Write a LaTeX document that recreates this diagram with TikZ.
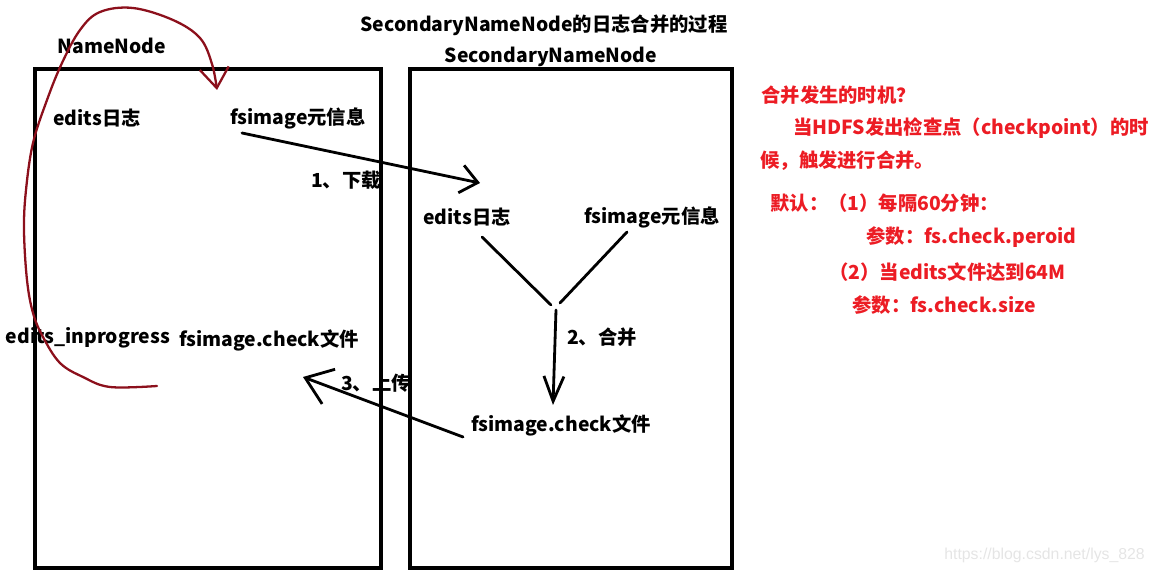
\documentclass[tikz,border=0pt]{standalone}
\usepackage{fontspec}
\setmainfont{Noto Sans CJK SC}
\newfontfamily\wmfont{Liberation Sans}
\usetikzlibrary{arrows.meta}
\definecolor{noteRed}{RGB}{236,28,36}
\definecolor{penRed}{RGB}{140,16,28}

\begin{document}
\begin{tikzpicture}[x=0.02cm,y=-0.02cm,line cap=round,line join=round,
    font=\fontsize{11}{13}\selectfont\bfseries]
  \tikzstyle{box}=[draw,line width=1.8pt,line cap=butt,line join=miter]
  \tikzstyle{txt}=[inner sep=0pt]
  \tikzstyle{note}=[txt,anchor=west,text=noteRed]
  \tikzstyle{flow}=[line width=1.6pt]
  \useasboundingbox (0,0) rectangle (1154,574);

  % titles
  \node [txt] (title) at (544,25) {SecondaryNameNode的日志合并的过程};
  \node [txt] (nnLabel) at (112,46) {NameNode};
  \node [txt] (snnLabel) at (551,57) {SecondaryNameNode};

  % NameNode side
  \node [txt] (editsL) at (97,118) {edits日志};
  \node [txt] (fsimgL) at (298,118) {fsimage元信息};
  \node [txt] (inprog) at (88,338) {edits\_inprogress};
  \node [txt] (chkL) at (269,340) {fsimage.check文件};

  % SecondaryNameNode side
  \node [txt] (editsR) at (467,217) {edits日志};
  \node [txt] (fsimgR) at (652,217) {fsimage元信息};
  \node [txt] (chkR) at (561,425) {fsimage.check文件};

  % step labels
  \node [txt] (download) at (346,180) {1、下载};
  \node [txt] (merge) at (602,337) {2、合并};
  \node [txt] (upload) at (376,383) {3、上传};

  \draw [box] (35,69) rectangle (381,568);
  \draw [box] (410,69) rectangle (732,568);

  % connectors
  \coordinate (dlFrom) at (242,133);
  \coordinate (dlTo) at (480,183);
  \coordinate (yLeft) at (482,237);
  \coordinate (yLeftEnd) at (551,305);
  \coordinate (yRight) at (627,232);
  \coordinate (yRightEnd) at (560,303);
  \coordinate (mgFrom) at (556,310);
  \coordinate (mgTo) at (553,405);
  \coordinate (upFrom) at (463,437);
  \coordinate (upTo) at (303,377);

  \draw [flow,-{Straight Barb[length=3.4mm,width=5.6mm]}] (dlFrom) -- (dlTo);
  \draw [flow] (yLeft) -- (yLeftEnd);
  \draw [flow] (yRight) -- (yRightEnd);
  \draw [flow,-{Straight Barb[length=5mm,width=4mm]}] (mgFrom) -- (mgTo);
  \draw [flow,-{Straight Barb[length=5mm,width=7.4mm]}] (upFrom) -- (upTo);

  % hand drawn roll-over
  \draw [penRed,line width=1.3pt,-{Straight Barb[length=4mm,width=5.8mm]}]
    plot [smooth,tension=0.6] coordinates {(157,386) (110,387) (83,377) (60,363)
      (43,337) (33,313) (27,280) (24,230) (26,190) (33,143) (47,100) (62,63)
      (80,30) (100,12) (133,8) (173,20) (200,38) (212,64) (217,90)};

  % when merging happens
  \node [note] (q) at (761,95) {合并发生的时机？};
  \node [note] (why1) at (793,128) {当HDFS发出检查点（checkpoint）的时};
  \node [note] (why2) at (760,161) {候，触发进行合并。};
  \node [note] (def) at (770,203) {默认：（1）每隔60分钟：};
  \node [note] (par1) at (866,237) {参数：fs.check.peroid};
  \node [note] (cond2) at (829,272) {（2）当edits文件达到64M};
  \node [note] (par2) at (852,305) {参数：fs.check.size};

  \node [txt,anchor=west,text=black!10,font=\wmfont\fontsize{9}{10}\selectfont] (wm) at (944,555) {https://blog.csdn.net/lys\_828};
\end{tikzpicture}
\end{document}
